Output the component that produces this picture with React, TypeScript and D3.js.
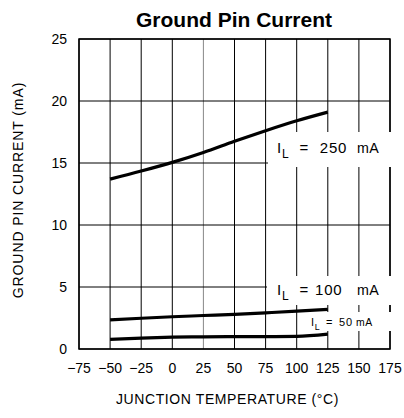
import React from "react";
import * as d3 from "d3";

const temps = [-50, -25, 0, 25, 50, 75, 100, 125];
const i250 = [13.7, 14.35, 15.05, 15.85, 16.75, 17.6, 18.4, 19.1];
const i100 = [2.35, 2.48, 2.6, 2.7, 2.8, 2.92, 3.05, 3.2];
const i50 = [0.78, 0.88, 0.95, 0.98, 1.0, 1.0, 1.02, 1.2];
const xTicks = [-75, -50, -25, 0, 25, 50, 75, 100, 125, 150, 175];
const yTicks = [0, 5, 10, 15, 20, 25];
const title = "Ground Pin Current";
const xTitle = "JUNCTION TEMPERATURE (°C)";
const yTitle = "GROUND PIN CURRENT (mA)";

const W = 404, H = 418;
const M = { left: 79, right: 390, top: 39, bottom: 349 };
const FONT = "'Liberation Sans', Arial, sans-serif";

export default function App() {
  const x = d3.scaleLinear().domain([-75, 175]).range([M.left, M.right]);
  const y = d3.scaleLinear().domain([0, 25]).range([M.bottom, M.top]);
  const line = d3
    .line<[number, number]>()
    .x((d) => x(d[0]))
    .y((d) => y(d[1]))
    .curve(d3.curveMonotoneX);
  const series = [i250, i100, i50];
  const fmt = (v: number) => (v < 0 ? "\u2212" + Math.abs(v) : String(v));

  const label = (
    bx: number, by: number, bw: number, bh: number,
    tx: number, base: number, val: string, fs: number,
    offEq: number, offVal: number, offMA: number
  ) => (
    <g>
      <rect x={bx} y={by} width={bw} height={bh} fill="#fff" />
      <text x={tx} y={base} fontSize={fs} fontFamily={FONT} fill="#000">
        I
      </text>
      <text x={tx + fs * 0.33} y={base + fs * 0.33} fontSize={fs * 0.8} fontFamily={FONT} fill="#000">
        L
      </text>
      <text x={tx + offEq} y={base} fontSize={fs} fontFamily={FONT} fill="#000">
        =
      </text>
      <text x={tx + offVal} y={base} fontSize={fs} fontFamily={FONT} fill="#000" letterSpacing={0.8}>
        {val}
      </text>
      <text x={tx + offMA} y={base} fontSize={fs * 0.95} fontFamily={FONT} fill="#000" letterSpacing={0.5}>
        mA
      </text>
    </g>
  );

  return (
    <div style={{ position: "absolute", left: 0, top: 0 }}>
      <svg width={W} height={H} style={{ display: "block", background: "#fff" }}>
        <rect x={0} y={0} width={W} height={H} fill="#fff" />
        <text x={234} y={27} textAnchor="middle" fontFamily={FONT} fontWeight="bold" fontSize={21} fill="#000">
          {title}
        </text>
        {xTicks.map((t) => (
          <line key={"vx" + t} x1={x(t)} x2={x(t)} y1={M.top} y2={M.bottom} stroke={t === 25 ? "#888" : "#000"} strokeWidth={1} />
        ))}
        {yTicks.map((t) => (
          <line key={"hy" + t} x1={M.left} x2={M.right} y1={y(t)} y2={y(t)} stroke="#000" strokeWidth={1} />
        ))}
        <rect x={M.left} y={M.top} width={M.right - M.left} height={M.bottom - M.top} fill="none" stroke="#000" strokeWidth={1.5} />
        {label(268, 132, 123, 35, 277, 153, "250", 15, 22.5, 42.75, 80)}
        {label(267, 276, 124, 29, 277, 295, "100", 15, 22.5, 38, 80)}
        {label(304, 312, 87, 19, 311, 326, "50", 11, 15, 28, 45)}
        {series.map((s, i) => (
          <path key={i} d={line(temps.map((t, j) => [t, s[j]] as [number, number])) || ""} fill="none" stroke="#000" strokeWidth={3.2} strokeLinecap="butt" />
        ))}
        {yTicks.map((t) => (
          <text key={"yl" + t} x={67} y={y(t) + 5} textAnchor="end" fontFamily={FONT} fontSize={14} fill="#000">
            {t}
          </text>
        ))}
        {xTicks.map((t) => (
          <text key={"xl" + t} x={x(t)} y={373} textAnchor="middle" fontFamily={FONT} fontSize={14} fill="#000">
            {fmt(t)}
          </text>
        ))}
        <text x={227.5} y={404} textAnchor="middle" fontFamily={FONT} fontSize={14} letterSpacing={0.6} fill="#000">
          {xTitle}
        </text>
        <text transform={`translate(23,190) rotate(-90)`} textAnchor="middle" fontFamily={FONT} fontSize={14} letterSpacing={0.9} fill="#000">
          {yTitle}
        </text>
      </svg>
    </div>
  );
}
